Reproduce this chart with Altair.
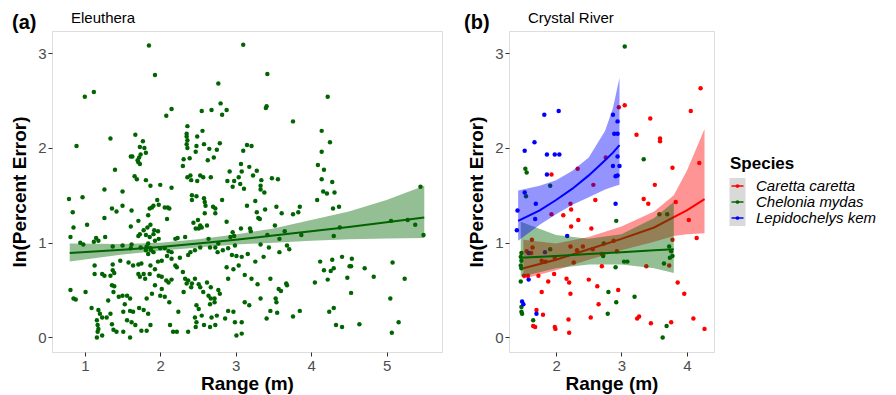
import altair as alt
import pandas as pd

FONT = "Liberation Sans"

# ---------------- Panel (a): Eleuthera ----------------
a_range = [
    1.85, 3.10, 1.93, 1.00, 1.12, 2.77, 2.15, 2.08, 2.55, 2.68, 2.80, 2.88, 2.82, 2.36, 2.35, 2.35, 2.36, 2.35, 2.36,
    2.56, 2.49, 2.58, 2.48, 2.65, 2.47, 2.75, 2.79, 2.71, 2.63, 2.39, 2.31, 2.30, 1.34, 0.89, 1.67, 1.77, 1.73, 1.79,
    1.81, 1.61, 1.63, 1.74, 1.72, 1.70, 1.71, 1.73, 1.40, 1.66, 1.69, 1.81, 1.87, 2.00, 2.15, 1.26, 1.50, 2.36, 2.40,
    2.53, 2.57, 2.67, 2.41, 2.49, 2.92, 2.98, 2.96, 2.89, 3.04, 3.07, 3.11, 3.06, 3.08, 3.10, 3.15, 3.21, 3.18,
    3.42, 3.40, 3.41, 4.22, 3.76, 4.14, 4.25, 4.14, 4.09, 4.17, 4.14, 4.28, 4.16, 4.21, 4.31, 3.28, 3.23, 3.34, 3.48,
    3.56, 3.33, 3.33, 3.38, 5.45,
    0.79, 0.97, 0.84, 0.85, 0.81, 1.03, 1.26, 1.36, 1.42, 1.50, 1.62, 1.71, 1.61, 1.84, 1.86, 1.89, 1.91, 1.96, 1.98,
    2.06, 2.10, 2.12, 2.09, 1.83, 1.87, 1.92, 1.78, 1.73, 1.71, 1.81, 1.86, 1.91, 1.93, 1.98, 1.97, 1.15, 1.18, 1.12,
    0.94, 0.98, 1.27, 1.37, 1.50, 1.62, 1.61, 1.74, 1.82, 1.84, 1.87, 1.88, 1.91, 1.81, 1.84, 2.00, 2.06, 2.11, 2.15,
    2.20, 2.23, 2.33, 2.42, 2.48, 2.42, 2.58, 2.59, 2.60, 2.59, 2.73, 2.70, 2.73, 2.82, 2.50, 2.44, 2.53, 2.47, 2.51,
    2.55, 2.62, 2.88, 2.96, 2.98, 2.93, 3.07, 3.19, 2.64, 2.66, 2.73, 2.77, 2.53, 2.46, 2.40, 2.37, 2.76, 2.83, 2.90,
    2.99, 2.95, 3.01, 3.08, 3.16, 1.13, 1.23, 1.13, 1.26, 1.37, 1.37, 1.39, 1.34, 1.47, 1.58, 1.64, 1.71, 1.75, 1.71,
    1.73, 1.78, 1.80, 1.87, 1.86, 1.93, 1.97, 2.02, 2.09, 2.15, 2.20, 1.98, 2.02, 2.08, 2.11, 2.15, 2.22, 2.26, 2.30,
    2.33, 2.37, 2.42, 2.46, 2.51, 2.53, 2.57, 2.62, 2.64, 2.67, 2.77, 2.79, 2.88, 2.90, 2.97, 3.04, 3.12, 3.21, 0.81,
    0.85, 0.88, 1.01, 1.09, 1.18, 1.20, 1.23, 1.36, 1.39, 1.38, 1.31, 1.45, 1.50, 1.56, 1.60, 1.53, 1.51, 1.60, 1.64,
    1.72, 1.78, 1.84, 1.82, 1.89, 1.93, 2.02, 2.00, 2.06, 2.12, 1.16, 1.17, 1.18, 1.17, 1.16, 1.23, 1.29, 1.34, 1.36,
    1.38, 1.42, 1.51, 1.60, 1.56, 1.62, 1.67, 1.75, 1.82, 1.87, 2.13, 2.17, 2.22, 2.24, 2.37, 2.46, 2.48, 2.47, 2.51,
    2.48, 2.55, 2.58, 2.66, 2.73, 2.68, 2.75, 2.86, 2.90, 2.97, 2.99, 3.01, 3.08, 3.08, 3.12, 2.72, 2.67, 2.66, 2.72,
    2.31, 2.35, 2.41,
    3.15, 3.26, 3.28, 3.30, 3.32, 3.39, 3.54, 3.61, 3.76, 3.83, 3.85, 4.08, 4.29, 4.37, 3.20, 3.42, 3.52, 3.58, 3.65,
    3.87, 4.38, 4.30, 5.06, 5.28, 5.38, 5.49, 3.33, 3.44, 3.58, 3.68, 3.71, 3.26, 3.37, 4.12, 4.17, 4.22, 4.26, 4.28,
    4.30, 4.41, 4.51, 4.54, 4.53, 4.48, 4.53, 4.71, 4.83, 4.05, 5.08, 5.24, 5.05, 3.29, 3.46, 3.33, 3.57, 3.60, 3.67,
    3.68, 3.53, 3.54, 3.18, 3.46, 3.55, 3.41, 3.76, 3.85, 4.24, 4.30, 4.33, 4.41, 4.64, 5.07, 5.16,
]
a_err = [
    3.08, 3.09, 2.77, 2.54, 2.59, 2.68, 2.41, 2.34, 2.39, 2.40, 2.47, 2.40, 2.35, 2.23, 2.15, 2.12, 2.08, 2.04, 2.00,
    2.18, 2.12, 2.04, 2.02, 1.99, 1.96, 1.98, 2.05, 1.90, 1.87, 1.89, 1.88, 1.81, 2.10, 2.02, 2.14, 2.07, 2.01, 2.00,
    1.95, 1.91, 1.91, 1.93, 1.90, 1.87, 1.85, 1.83, 1.77, 1.70, 1.67, 1.66, 1.60, 1.61, 1.58, 1.56, 1.54, 1.69, 1.71,
    1.71, 1.69, 1.69, 1.66, 1.65, 1.75, 1.65, 1.59, 1.65, 1.69, 1.83, 1.57, 1.62, 1.75, 1.97, 2.03, 2.02, 1.80,
    2.78, 2.42, 2.44, 2.54, 2.28, 2.18, 2.06, 1.96, 1.82, 1.77, 1.67, 1.64, 1.54, 1.52, 1.53, 1.76, 1.71, 1.66, 1.68,
    1.67, 1.60, 1.56, 1.53, 1.59,
    1.46, 1.48, 1.32, 1.16, 1.06, 1.19, 1.26, 1.36, 1.33, 1.39, 1.34, 1.23, 1.17, 1.29, 1.36, 1.37, 1.39, 1.45, 1.40,
    1.37, 1.37, 1.36, 1.25, 1.16, 1.19, 1.13, 1.13, 1.09, 1.07, 1.08, 1.06, 1.09, 1.02, 1.04, 1.12, 1.05, 1.02, 1.01,
    1.00, 0.98, 1.06, 0.96, 0.97, 0.98, 0.94, 0.95, 0.96, 0.99, 0.94, 0.92, 0.90, 0.92, 0.88, 0.94, 0.94, 0.91, 0.90,
    1.04, 1.05, 1.06, 1.50, 1.49, 1.45, 1.47, 1.43, 1.39, 1.31, 1.31, 1.38, 1.36, 1.45, 1.24, 1.21, 1.18, 1.15, 1.15,
    1.16, 1.18, 1.22, 1.11, 1.07, 1.06, 1.15, 1.15, 1.04, 0.95, 0.95, 0.99, 0.95, 0.92, 0.90, 0.87, 0.90, 0.92, 0.94,
    0.97, 0.87, 0.86, 0.85, 0.88, 0.76, 0.67, 0.67, 0.65, 0.77, 0.71, 0.68, 0.65, 0.81, 0.79, 0.76, 0.77, 0.78, 0.67,
    0.64, 0.67, 0.62, 0.76, 0.67, 0.72, 0.80, 0.81, 0.86, 0.83, 0.76, 0.65, 0.64, 0.60, 0.58, 0.61, 0.74, 0.84, 0.69,
    0.62, 0.60, 0.57, 0.62, 0.56, 0.53, 0.48, 0.58, 0.44, 0.53, 0.50, 0.46, 0.74, 0.62, 0.72, 0.76, 0.66, 0.62, 0.50,
    0.41, 0.40, 0.48, 0.31, 0.29, 0.25, 0.21, 0.55, 0.54, 0.48, 0.39, 0.43, 0.44, 0.44, 0.41, 0.35, 0.27, 0.28, 0.27,
    0.31, 0.29, 0.25, 0.41, 0.46, 0.55, 0.51, 0.44, 0.43, 0.37, 0.18, 0.13, 0.09, 0.06, 0.00, 0.02, 0.21, 0.25, 0.14,
    0.08, 0.06, 0.06, 0.00, 0.18, 0.16, 0.13, 0.07, 0.07, 0.13, 0.13, 0.06, 0.06, 0.27, 0.06, 0.21, 0.16, 0.11, 0.30,
    0.34, 0.23, 0.13, 0.11, 0.13, 0.21, 0.23, 0.20, 0.28, 0.27, 0.16, 0.02, 0.16, 0.04, 0.37, 0.41, 0.41, 0.35, 0.37,
    0.48, 0.57, 0.53,
    1.39, 1.44, 1.32, 1.26, 1.25, 1.35, 1.38, 1.31, 1.30, 1.32, 1.38, 1.45, 1.36, 1.38, 1.12, 1.08, 1.18, 1.04, 1.12,
    1.08, 1.16, 1.07, 1.23, 1.24, 1.19, 1.08, 0.98, 0.95, 0.90, 0.97, 0.93, 0.80, 0.85, 0.80, 0.71, 0.61, 0.70, 0.82,
    0.73, 0.85, 0.75, 0.83, 0.75, 0.63, 0.47, 0.73, 0.64, 0.58, 0.79, 0.62, 0.41, 0.56, 0.62, 0.41, 0.51, 0.49, 0.57,
    0.55, 0.41, 0.37, 0.34, 0.28, 0.26, 0.20, 0.22, 0.28, 0.27, 0.31, 0.13, 0.11, 0.14, 0.05, 0.16,
]
a_fit_x = [0.8, 1.5, 2.0, 2.5, 3.0, 3.5, 4.0, 4.5, 5.0, 5.5]
a_fit = [0.89, 0.925, 0.955, 0.99, 1.03, 1.075, 1.12, 1.165, 1.215, 1.265]
a_lo = [0.80, 0.875, 0.915, 0.95, 0.98, 1.00, 1.02, 1.035, 1.045, 1.05]
a_hi = [0.99, 0.985, 1.00, 1.035, 1.085, 1.15, 1.24, 1.33, 1.45, 1.60]

# ---------------- Panel (b): Crystal River ----------------
species = ["Caretta caretta", "Chelonia mydas", "Lepidochelys kempii"]
colors = ["#FF0000", "#006400", "#0000FF"]

cc_x = [1.93, 2.96, 3.05, 3.44, 3.23, 3.59, 3.59, 4.06, 4.21, 3.78, 4.19, 3.51, 2.33, 2.57, 2.76, 2.22, 1.93,
        2.60, 3.34, 3.41, 3.83, 4.03, 2.23, 2.11, 2.34, 2.54, 2.23, 4.15, 3.78, 1.63, 1.64, 1.55, 1.62, 1.78, 1.84,
        1.98, 2.22, 2.32, 2.27, 2.41, 2.56, 2.70, 2.88, 2.93, 2.70, 3.38, 3.73, 1.51, 1.57, 1.73, 1.88, 1.97, 2.16,
        2.20, 1.78, 2.22, 2.50, 2.63, 2.65, 2.95, 3.86, 3.96, 1.70, 1.80, 2.19, 2.20, 1.98, 1.99, 1.65, 1.68, 2.53,
        3.24, 3.27, 3.45, 3.76, 4.10, 4.27]
cc_y = [1.72, 2.43, 2.45, 2.31, 2.14, 2.10, 2.07, 2.39, 2.63, 1.79, 1.84, 1.61, 1.78, 1.61, 1.90, 1.41, 1.30,
        1.45, 1.46, 1.41, 1.43, 1.24, 1.35, 1.29, 1.24, 1.15, 1.17, 1.05, 1.03, 1.03, 0.95, 0.91, 0.89, 0.81, 0.80,
        0.84, 0.96, 0.92, 0.79, 0.96, 0.93, 0.88, 1.02, 0.91, 0.75, 0.75, 0.76, 0.65, 0.65, 0.65, 0.59, 0.67, 0.62,
        0.58, 0.48, 0.46, 0.61, 0.54, 0.35, 0.50, 0.58, 0.46, 0.29, 0.24, 0.19, 0.05, 0.11, 0.09, 0.12, 0.11, 0.21,
        0.20, 0.22, 0.15, 0.16, 0.20, 0.09]
cm_x = [3.05, 1.53, 1.55, 1.54, 1.91, 3.34, 1.47, 1.46, 1.47, 1.46, 1.47, 1.46, 1.91, 2.73, 2.72, 2.92, 2.91, 3.04,
        3.09, 3.58, 3.70, 3.73, 3.76, 3.78, 3.74, 3.65, 2.80, 2.92, 3.20, 2.79, 1.47, 1.47, 1.48, 1.65, 3.69, 3.63]
cm_y = [3.07, 1.78, 1.74, 1.49, 1.60, 1.88, 0.89, 0.85, 0.81, 0.76, 0.73, 0.59, 0.93, 0.99, 0.86, 1.23, 0.74, 0.80,
        0.80, 1.30, 1.30, 0.96, 0.91, 0.86, 0.84, 0.78, 0.48, 0.37, 0.43, 0.25, 0.32, 0.27, 0.25, 0.18, 0.12, 0.00]
lk_x = [1.82, 2.04, 1.67, 1.52, 1.86, 1.98, 2.05, 1.86, 2.87, 2.94, 2.89, 2.94, 2.94, 2.87, 2.97, 2.91, 2.94, 1.52,
        1.69, 1.41, 1.68, 1.40, 2.91, 2.17, 1.58, 1.48, 1.50, 1.70, 1.58, 1.83]
lk_y = [2.35, 2.39, 2.06, 1.97, 1.93, 1.93, 1.93, 1.72, 2.35, 2.28, 2.15, 2.15, 1.91, 1.81, 1.81, 1.70, 1.71, 1.53,
        1.41, 1.34, 1.25, 1.13, 1.41, 1.07, 0.61, 0.38, 0.35, 0.25, 0.89, 0.90]

cc_fit_x = [1.50, 2.0, 2.5, 3.0, 3.5, 3.8, 4.0, 4.27]
cc_fit = [0.73, 0.82, 0.93, 1.04, 1.16, 1.27, 1.34, 1.46]
cc_lo = [0.62, 0.71, 0.82, 0.92, 1.01, 1.07, 1.09, 1.10]
cc_hi = [1.03, 0.99, 1.06, 1.17, 1.33, 1.50, 1.76, 2.20]

cm_fit_x = [1.46, 2.0, 2.5, 3.0, 3.5, 3.8]
cm_fit = [0.84, 0.86, 0.88, 0.90, 0.92, 0.93]
cm_lo = [0.64, 0.73, 0.77, 0.77, 0.73, 0.68]
cm_hi = [1.22, 1.08, 1.04, 1.09, 1.26, 1.43]

lk_fit_x = [1.42, 1.75, 2.0, 2.25, 2.5, 2.75, 2.87, 2.97]
lk_fit = [1.23, 1.34, 1.45, 1.57, 1.71, 1.87, 1.95, 2.03]
lk_lo = [1.02, 1.19, 1.30, 1.40, 1.48, 1.56, 1.59, 1.61]
lk_hi = [1.55, 1.60, 1.66, 1.76, 1.90, 2.18, 2.42, 2.74]

# ---------------- helpers ----------------
AX = dict(tickSize=4, tickColor="#333333", tickWidth=1, labelFontSize=15, labelColor="#4D4D4D", labelFont=FONT,
          labelPadding=2, domain=False, grid=False, titleFont=FONT, titleFontSize=19, titleFontWeight="bold",
          titleColor="black")


def xenc(field, dom, vals):
    return alt.X(f"{field}:Q", scale=alt.Scale(domain=dom, nice=False, zero=False),
                 axis=alt.Axis(values=vals, title="Range (m)", titlePadding=1, **AX))


def yenc(field):
    return alt.Y(f"{field}:Q", scale=alt.Scale(domain=[-0.154, 3.234], nice=False, zero=False),
                 axis=alt.Axis(values=[0, 1, 2, 3], title="ln(Percent Error)", titlePadding=8, **AX))


def label(txt, x, y, size, weight="normal"):
    return alt.Chart(pd.DataFrame({"t": [txt]})).mark_text(
        align="left", baseline="alphabetic", fontSize=size, fontWeight=weight, font=FONT, color="black"
    ).encode(text="t:N", x=alt.value(x), y=alt.value(y))


# Panel A
domA = [0.565, 5.735]
dfA = pd.DataFrame({"range": a_range, "err": a_err})
fitA = pd.DataFrame({"range": a_fit_x, "fit": a_fit, "lo": a_lo, "hi": a_hi})
ptsA = alt.Chart(dfA).mark_circle(size=20, color="#006400", opacity=1).encode(
    x=xenc("range", domA, [1, 2, 3, 4, 5]), y=yenc("err"))
ribA = alt.Chart(fitA).mark_area(color="#006400", opacity=0.42).encode(
    x=xenc("range", domA, [1, 2, 3, 4, 5]), y=yenc("lo"), y2="hi:Q")
lineA = alt.Chart(fitA).mark_line(color="#006400", strokeWidth=2).encode(
    x=xenc("range", domA, [1, 2, 3, 4, 5]), y=yenc("fit"))
panelA = alt.layer(ptsA, ribA, lineA, label("(a)", -40, -2, 20, "bold"), label("Eleuthera", 19, -8, 15)).properties(
    width=390, height=321)

# Panel B
domB = [1.28, 4.415]
dfB = pd.concat([
    pd.DataFrame({"range": cc_x, "err": cc_y, "Species": species[0]}),
    pd.DataFrame({"range": cm_x, "err": cm_y, "Species": species[1]}),
    pd.DataFrame({"range": lk_x, "err": lk_y, "Species": species[2]}),
])
colB = alt.Color("Species:N", scale=alt.Scale(domain=species, range=colors), legend=None)
ptsB = alt.Chart(dfB).mark_circle(size=20, opacity=1).encode(
    x=xenc("range", domB, [2, 3, 4]), y=yenc("err"), color=colB)

layersB = [ptsB]
for sp, col, fx, f, lo, hi in [
    (species[0], colors[0], cc_fit_x, cc_fit, cc_lo, cc_hi),
    (species[1], colors[1], cm_fit_x, cm_fit, cm_lo, cm_hi),
    (species[2], colors[2], lk_fit_x, lk_fit, lk_lo, lk_hi),
]:
    fdf = pd.DataFrame({"range": fx, "fit": f, "lo": lo, "hi": hi})
    layersB.append(alt.Chart(fdf).mark_area(color=col, opacity=0.42).encode(
        x=xenc("range", domB, [2, 3, 4]), y=yenc("lo"), y2="hi:Q"))
    layersB.append(alt.Chart(fdf).mark_line(color=col, strokeWidth=2).encode(
        x=xenc("range", domB, [2, 3, 4]), y=yenc("fit")))
layersB += [label("(b)", -45, -2, 20, "bold"), label("Crystal River", 19, -8, 15)]
panelB = alt.layer(*layersB).properties(width=205, height=321)

# Legend (drawn as its own small chart)
leg = pd.DataFrame({"Species": species})
ys = alt.Y("Species:N", scale=alt.Scale(type="point", domain=species, range=[155, 187], padding=0), axis=None)
colL = alt.Color("Species:N", scale=alt.Scale(domain=species, range=colors), legend=None)
keybox = alt.Chart(leg).mark_square(size=256, color="#D9D9D9", opacity=1).encode(y=ys, x=alt.value(9.5))
keyline = alt.Chart(leg).mark_rule(strokeWidth=1.5).encode(y=ys, x=alt.value(3.5), x2=alt.value(15.5), color=colL)
keypt = alt.Chart(leg).mark_circle(size=14, opacity=1).encode(y=ys, x=alt.value(9.5), color=colL)
keytxt = alt.Chart(leg).mark_text(align="left", baseline="middle", fontSize=15, fontStyle="italic", font=FONT,
                                  color="black", limit=131, ellipsis=" ").encode(
    y=ys, x=alt.value(28), text="Species:N")
legend = alt.layer(keybox, keyline, keypt, keytxt, label("Species", 2, 138, 17, "bold")).properties(
    width=150, height=321, view=alt.ViewBackground(strokeWidth=0))

right = alt.hconcat(panelB, legend, spacing=14, bounds="flush")
chart = alt.hconcat(panelA, right, spacing=67, bounds="flush").properties(
    padding={"left": 2, "top": 2, "right": 0, "bottom": 0}
).configure_view(stroke="#A6A6A6", strokeWidth=1).configure(background="white")

chart.save("out.html", embed_options={"renderer": "svg", "actions": False})
